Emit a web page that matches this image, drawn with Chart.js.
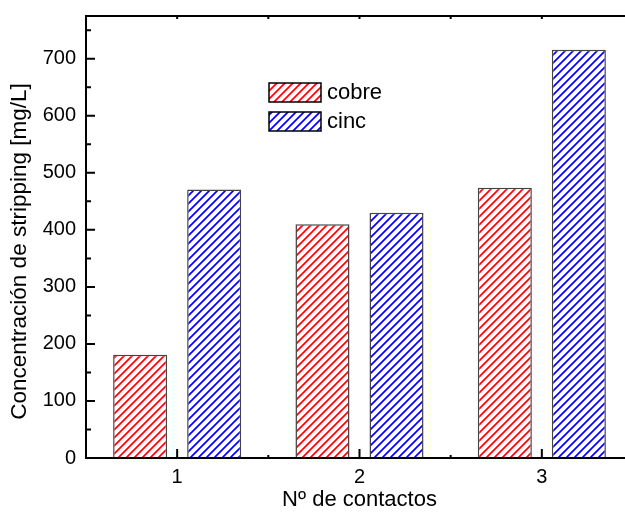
<!DOCTYPE html>
<html>
<head>
<meta charset="utf-8">
<script src="https://cdn.jsdelivr.net/npm/chart.js@4.4.1/dist/chart.umd.min.js"></script>
<style>
  html, body { margin: 0; padding: 0; background: #fff; overflow: hidden; }
  #wrap { position: absolute; left: 0; top: 0; width: 640px; height: 513px; }
</style>
</head>
<body>
<div id="wrap"><canvas id="chart"></canvas></div>
<script>
// Datos
const contactos = ["1", "2", "3"];
const cobre = [181, 410, 474];
const cinc = [471, 430, 716];
const yTicks = [0, 100, 200, 300, 400, 500, 600, 700];

const FONT = '"Liberation Sans", Arial, Helvetica, sans-serif';
const Y_TITLE = "Concentración de stripping [mg/L]";

const canvas = document.getElementById("chart");
const ctx = canvas.getContext("2d");

/** rayado diagonal "/" */
function hatch(color) {
  const s = 8;
  const c = document.createElement("canvas");
  c.width = s;
  c.height = s;
  const g = c.getContext("2d");
  g.fillStyle = "#fff";
  g.fillRect(0, 0, s, s);
  g.strokeStyle = color;
  g.lineWidth = 1.7;
  g.beginPath();
  g.moveTo(-1, s + 1); g.lineTo(s + 1, -1);
  g.moveTo(-s / 2 - 1, s / 2 + 1); g.lineTo(s / 2 + 1, -s / 2 - 1);
  g.moveTo(s / 2 - 1, s * 1.5 + 1); g.lineTo(s * 1.5 + 1, s / 2 - 1);
  g.stroke();
  return ctx.createPattern(c, "repeat");
}

const redHatch = hatch("#ff0000");
const blueHatch = hatch("#0000ff");

const framePlugin = {
  id: "frame",
  afterDatasetsDraw(chart) {
    const { ctx, chartArea: a, scales } = chart;
    const y = scales.y, x = scales.x;
    ctx.save();
    ctx.strokeStyle = "#000";
    ctx.lineWidth = 2;
    ctx.beginPath();
    ctx.moveTo(a.left, a.top); ctx.lineTo(a.left, a.bottom);
    ctx.moveTo(a.left - 1, a.bottom); ctx.lineTo(a.right, a.bottom);
    ctx.moveTo(a.left - 1, a.top); ctx.lineTo(a.right, a.top);
    ctx.moveTo(a.right, a.top); ctx.lineTo(a.right, a.bottom);
    // ticks eje y
    for (const v of yTicks) {
      const p = y.getPixelForValue(v);
      ctx.moveTo(a.left, p); ctx.lineTo(a.left + 9, p);
      const m = y.getPixelForValue(v + 50);
      ctx.moveTo(a.left, m); ctx.lineTo(a.left + 5, m);
    }
    // ticks eje x
    contactos.forEach((c, i) => {
      const p = x.getPixelForValue(i);
      ctx.moveTo(p, a.bottom); ctx.lineTo(p, a.bottom - 9);
      ctx.moveTo(p, a.top); ctx.lineTo(p, a.top + 3);
      if (i < contactos.length - 1) {
        const m = (p + x.getPixelForValue(i + 1)) / 2;
        ctx.moveTo(m, a.bottom); ctx.lineTo(m, a.bottom - 3);
        ctx.moveTo(m, a.top); ctx.lineTo(m, a.top + 3);
      }
    });
    ctx.stroke();

    // título eje y
    ctx.fillStyle = "#000";
    ctx.font = "22.5px " + FONT;
    ctx.textAlign = "center";
    ctx.textBaseline = "middle";
    ctx.translate(19.5, 251.5);
    ctx.rotate(-Math.PI / 2);
    ctx.fillText(Y_TITLE, 0, 0);
    ctx.restore();

    // leyenda
    ctx.save();
    const items = chart.data.datasets;
    items.forEach((ds, i) => {
      const top = 83 + i * 29;
      ctx.fillStyle = ds.backgroundColor;
      ctx.fillRect(269, top, 52, 19);
      ctx.strokeStyle = "#000";
      ctx.lineWidth = 1.5;
      ctx.strokeRect(269, top, 52, 19);
      ctx.fillStyle = "#000";
      ctx.font = "22px " + FONT;
      ctx.textAlign = "left";
      ctx.textBaseline = "middle";
      ctx.fillText(ds.label, 327, top + 10);
    });
    ctx.restore();
  },
};

new Chart(ctx, {
  type: "bar",
  data: {
    labels: contactos,
    datasets: [
      {
        label: "cobre",
        data: cobre,
        backgroundColor: redHatch,
        borderColor: "#444",
        borderWidth: 1.5,
        categoryPercentage: 0.812,
        barPercentage: 0.73,
      },
      {
        label: "cinc",
        data: cinc,
        backgroundColor: blueHatch,
        borderColor: "#444",
        borderWidth: 1.5,
        categoryPercentage: 0.812,
        barPercentage: 0.73,
      },
    ],
  },
  options: {
    responsive: true,
    maintainAspectRatio: false,
    animation: false,
    layout: { padding: { left: 0, top: 16, right: 7, bottom: 0 } },
    plugins: {
      legend: { display: false },
      tooltip: { enabled: false },
    },
    scales: {
      x: {
        offset: true,
        grid: { display: false, drawTicks: false },
        border: { display: false },
        ticks: {
          color: "#000",
          font: { family: FONT, size: 20 },
          padding: 7,
          maxRotation: 0,
        },
        title: {
          display: true,
          text: "Nº de contactos",
          color: "#000",
          font: { family: FONT, size: 22 },
          padding: { top: 0, bottom: 0 },
        },
        afterFit(scale) {
          scale.height = 55;
          scale.paddingLeft = 0;
          scale.paddingRight = 0;
        },
      },
      y: {
        min: 0,
        max: 775,
        grid: { display: false, drawTicks: false },
        border: { display: false },
        afterBuildTicks(scale) {
          scale.ticks = yTicks.map((v) => ({ value: v }));
        },
        ticks: {
          color: "#000",
          font: { family: FONT, size: 20 },
          padding: 10,
        },
        afterFit(scale) {
          scale.width = 86;
          scale.paddingTop = 0;
          scale.paddingBottom = 0;
        },
      },
    },
  },
  plugins: [framePlugin],
});
</script>
</body>
</html>
